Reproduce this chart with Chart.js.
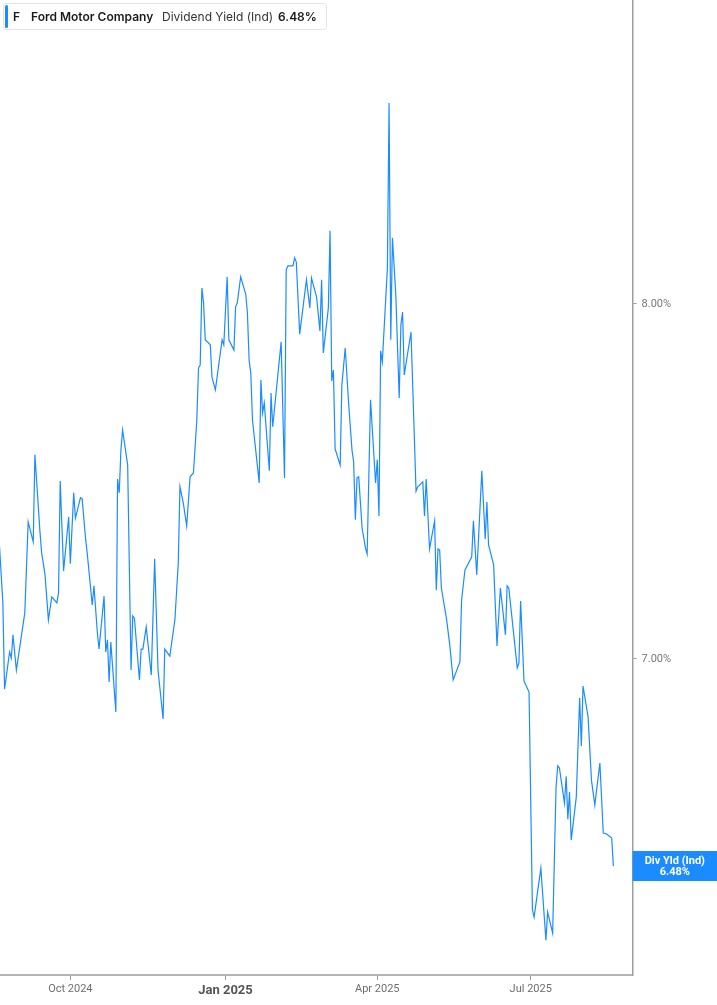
<!DOCTYPE html>
<html>
<head>
<meta charset="utf-8">
<script src="https://cdn.jsdelivr.net/npm/chart.js@4.4.1/dist/chart.umd.min.js"></script>
<style>
  body { margin: 0; background: #fff; }
  #wrap { position: relative; width: 717px; height: 1005px; }
  #head {
    position: absolute; left: 3px; top: 3px; height: 27px; width: 324px;
    box-sizing: border-box; border: 1px solid #e4e4e4; border-radius: 3px; background: #fff;
    font-family: Inter, "Noto Sans", sans-serif; font-size: 12px; line-height: 25px; white-space: nowrap;
  }
  #head .bar { position: absolute; left: 1px; top: 1px; width: 3px; height: 23px; background: #1a8cff; border-radius: 2px; }
  #head span { position: absolute; top: 0; }
  .b { font-weight: 600; color: #1b1b1b; }
  .r { color: #333; }
</style>
</head>
<body>
<div id="wrap">
  <canvas id="myChart" width="717" height="1005"></canvas>
  <div id="head">
    <div class="bar"></div>
    <span class="b" style="left:9px">F</span>
    <span class="b" style="left:27px">Ford Motor Company</span>
    <span class="r" style="left:158px">Dividend Yield (Ind)</span>
    <span class="b" style="left:274px">6.48%</span>
  </div>
</div>
<script>
// day numbers counted from 2024-08-01
const days = [
  19,21,22,25,26,27,29,34,36,39,
  40,43,44,46,48,50,53,54,55,57,
  60,61,63,64,67,68,70,71,74,75,
  77,78,81,82,83,84,85,88,89,90,
  91,92,95,97,98,99,102,103,104,106,
  109,111,113,116,117,120,123,125,126,128,
  130,132,134,136,137,138,139,140,141,144,
  145,147,151,152,154,155,158,159,160,162,
  165,166,167,168,169,173,174,175,176,179,
  180,181,186,188,189,190,193,194,195,197,
  201,203,204,207,209,210,211,214,215,216,
  217,218,221,222,224,226,228,229,230,231,
  232,234,236,237,239,242,243,244,245,246,
  249,250,251,252,254,256,257,258,259,263,
  266,267,270,271,272,274,277,278,279,280,
  281,284,286,288,292,293,295,299,300,302,
  305,307,308,309,312,314,316,319,320,321,
  326,327,328,330,333,335,336,340,343,344,
  347,349,350,351,354,355,356,357,358,361,
  363,364,365,368,370,372,375,377,379,382,
  383
];

// dividend yield, %
const yields = [
  7.318,7.158,6.915,7.020,7.003,7.068,6.969,7.130,7.386,7.330,
  7.575,7.358,7.299,7.237,7.110,7.175,7.158,7.186,7.501,7.248,
  7.400,7.268,7.468,7.397,7.454,7.451,7.341,7.299,7.152,7.206,
  7.076,7.028,7.177,7.020,7.054,6.935,7.048,6.851,7.507,7.468,
  7.589,7.645,7.546,6.969,7.121,7.115,6.941,7.028,7.028,7.090,
  6.955,7.282,6.969,6.831,7.028,7.008,7.110,7.270,7.485,7.439,
  7.375,7.513,7.524,7.673,7.820,7.828,8.045,8.003,7.899,7.885,
  7.794,7.758,7.899,7.885,8.076,7.899,7.870,7.992,8.003,8.076,
  8.028,7.975,7.842,7.806,7.673,7.496,7.786,7.693,7.721,7.530,
  7.749,7.654,7.893,7.510,8.096,8.107,8.107,8.130,8.118,7.915,
  8.068,7.989,8.073,8.020,7.924,8.068,7.862,7.989,8.206,7.783,
  7.814,7.592,7.546,7.772,7.876,7.721,7.589,7.555,7.392,7.510,
  7.513,7.369,7.313,7.296,7.730,7.496,7.561,7.403,7.868,7.837,
  8.101,8.566,7.899,8.186,8.025,7.735,7.941,7.977,7.800,7.921,
  7.473,7.485,7.499,7.403,7.507,7.310,7.389,7.194,7.310,7.307,
  7.200,7.115,7.039,6.941,6.992,7.166,7.251,7.287,7.389,7.237,
  7.530,7.338,7.442,7.321,7.265,7.037,7.200,7.068,7.206,7.200,
  6.975,6.989,7.163,6.938,6.907,6.293,6.273,6.411,6.208,6.287,
  6.228,6.639,6.699,6.693,6.594,6.670,6.549,6.625,6.490,6.611,
  6.890,6.755,6.924,6.837,6.659,6.589,6.707,6.510,6.507,6.496,
  6.417
];

const monthTicks = [61, 153, 243, 334];
const monthLabels = ['Oct 2024', 'Jan 2025', 'Apr 2025', 'Jul 2025'];
const yieldTicks = [7, 8];
const currentYield = 6.48;

const blue = '#1a8cff';

// box on the right axis at the last point
const lastValueBox = {
    id: 'lastValueBox',
    afterDraw(chart) {
        const ctx = chart.ctx;
        const area = chart.chartArea;
        const y = chart.scales.y.getPixelForValue(yields[yields.length - 1]);
        const x0 = area.right;
        const w = chart.width - x0;
        ctx.save();
        ctx.fillStyle = blue;
        ctx.fillRect(x0, y - 15, w, 30);
        ctx.fillStyle = '#fff';
        ctx.font = 'bold 11px Roboto';
        ctx.textAlign = 'center';
        ctx.textBaseline = 'middle';
        ctx.fillText('Div Yld (Ind)', x0 + w / 2, y - 5);
        ctx.fillText(currentYield.toFixed(2) + '%', x0 + w / 2, y + 6);
        ctx.restore();
    }
};

Chart.defaults.font.family = 'Roboto';

const ctx = document.getElementById('myChart').getContext('2d');
const myChart = new Chart(ctx, {
    type: 'line',
    data: {
        datasets: [{
            data: days.map((d, i) => ({ x: d, y: yields[i] })),
            borderColor: blue,
            borderWidth: 1.2,
            pointRadius: 0,
            tension: 0,
            fill: false
        }]
    },
    options: {
        responsive: false,
        animation: false,
        layout: { padding: 0 },
        plugins: {
            legend: { display: false },
            tooltip: { enabled: false }
        },
        scales: {
            x: {
                type: 'linear',
                position: 'bottom',
                min: 19.3,
                max: 394.4,
                afterBuildTicks: (scale) => {
                    scale.ticks = monthTicks.map(v => ({ value: v }));
                },
                afterFit: (scale) => {
                    scale.height = 30;
                    scale.paddingLeft = 0;
                    scale.paddingRight = 0;
                },
                grid: { drawOnChartArea: false, drawTicks: true, tickLength: 5, color: '#9a9a9a' },
                border: { color: '#b3b3b3', width: 2 },
                ticks: {
                    autoSkip: false,
                    maxRotation: 0,
                    padding: 3,
                    color: (c) => c.index === 1 ? '#555' : '#6e6e6e',
                    font: (c) => c.index === 1 ? { size: 13, weight: 'bold' } : { size: 11 },
                    callback: (v, i) => monthLabels[i]
                }
            },
            y: {
                position: 'right',
                min: 6.110,
                max: 8.856,
                afterBuildTicks: (scale) => {
                    scale.ticks = yieldTicks.map(v => ({ value: v }));
                },
                afterFit: (scale) => {
                    scale.width = 84.4;
                    scale.paddingTop = 0;
                    scale.paddingBottom = 0;
                },
                grid: { drawOnChartArea: false, drawTicks: true, tickLength: 4, color: '#9a9a9a' },
                border: { color: '#9e9e9e', width: 1.5 },
                ticks: {
                    padding: 5,
                    color: '#777',
                    font: { size: 11 },
                    callback: (v) => v.toFixed(2) + '%'
                }
            }
        }
    },
    plugins: [lastValueBox]
});
</script>
</body>
</html>
